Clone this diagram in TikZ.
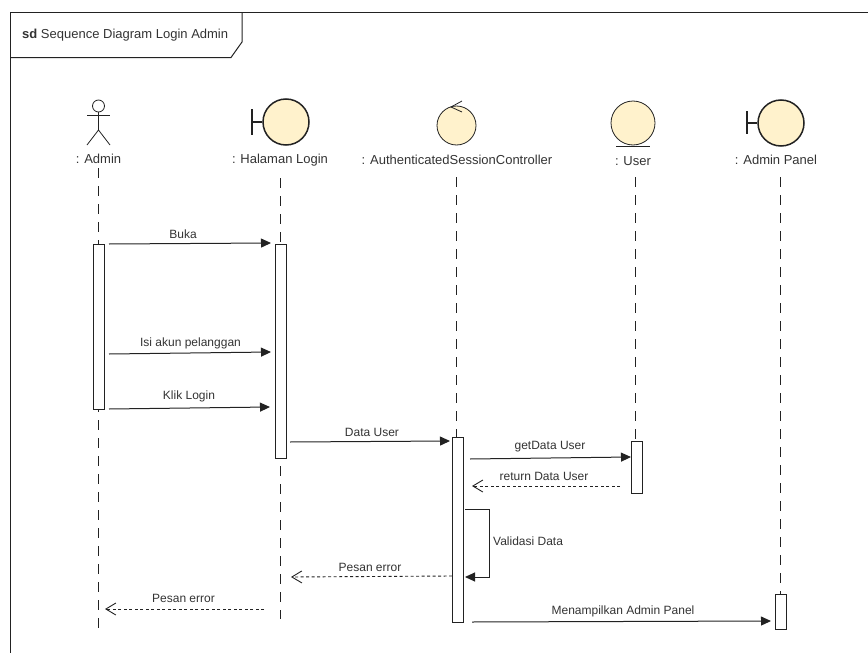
\documentclass[tikz,border=0pt]{standalone}
\usepackage{fontspec}
\setmainfont{Liberation Sans}
\usepackage{xcolor}
\usetikzlibrary{arrows.meta, shapes.geometric, positioning, calc}
\definecolor{bubble}{HTML}{FFF2CC}
\definecolor{ink}{HTML}{222222}
\definecolor{txt}{HTML}{333333}

\begin{document}
\begin{tikzpicture}[
    x=1pt, y=-1pt,
    every node/.style={font=\fontsize{13}{15}\selectfont, text=txt},
    frameline/.style={draw=ink, line width=1pt},
    bubblenode/.style={draw=ink, circle, fill=bubble, inner sep=0pt},
    bar/.style={draw=ink, fill=white, line width=1pt, minimum width=11pt, inner sep=0pt},
    lifeline/.style={draw=ink, line width=0.9pt, dash pattern=on 10pt off 8pt},
    msg/.style={draw=ink, line width=1pt, -{Triangle[length=10pt, width=9pt]}},
    ret/.style={draw=ink, line width=0.9pt, dash pattern=on 3pt off 2.5pt, -{Straight Barb[length=10pt, width=12pt]}},
    lbl/.style={inner sep=0pt},
    msglbl/.style={inner sep=0pt, font=\fontsize{12}{14}\selectfont}
]
    \useasboundingbox (0,0) rectangle (868,653);

    % Frame
    \draw[frameline] (10.5,653) -- (10.5,12.5) -- (868,12.5);
    \draw[frameline] (242,12.5) -- (242,42) -- (231,57.5) -- (10.5,57.5);
    \node[lbl, anchor=west] (title) at (22,35) {\textbf{sd} Sequence Diagram Login Admin};

    % Admin
    \node[draw=ink, circle, minimum size=12pt, inner sep=0pt, line width=0.8pt] (headAdmin) at (98.5,106) {};
    \coordinate (hipAdmin) at (98.5,130);
    \draw[draw=ink, line width=0.8pt] (headAdmin.south) -- (hipAdmin);
    \draw[draw=ink, line width=0.8pt] (87,115) -- (110,115);
    \draw[draw=ink, line width=0.8pt] (87,145) -- (hipAdmin) -- (110,145);
    \node[lbl] (lblAdmin) at (98.5,159) {: Admin};

    % Halaman Login
    \node[bubblenode, minimum size=46pt, line width=1.5pt] (bndLogin) at (286,122) {};
    \draw[draw=ink, line width=1.5pt] (bndLogin.west) -- ++(-11,0);
    \draw[draw=ink, line width=1.5pt] (252,109) -- (252,135);
    \node[lbl] (lblLogin) at (280,160) {: Halaman Login};

    % Controller
    \node[bubblenode, minimum size=39pt, line width=0.8pt] (ctlAuth) at (456.5,125.5) {};
    \draw[draw=ink, line width=0.8pt] (462,101) -- (451,107) -- (462,112);
    \node[lbl] (lblAuth) at (457,160) {: AuthenticatedSessionController};

    % User
    \node[bubblenode, minimum size=44pt, line width=0.8pt] (entUser) at (633,123) {};
    \draw[draw=ink, line width=1pt] (616,146) -- (650,146);
    \node[lbl] (lblUser) at (633,161) {: User};

    % Admin Panel
    \node[bubblenode, minimum size=46pt, line width=1.5pt] (bndPanel) at (781,123) {};
    \draw[draw=ink, line width=1.5pt] (bndPanel.west) -- ++(-11,0);
    \draw[draw=ink, line width=1.5pt] (747,111) -- (747,134);
    \node[lbl] (lblPanel) at (776,160) {: Admin Panel};

    % Lifelines
    \coordinate (topAdmin) at (98.5,168);
    \coordinate (endAdmin) at (98.5,630);
    \coordinate (topLogin) at (280.5,178);
    \coordinate (endLogin) at (280.5,619);
    \coordinate (topAuth) at (456.5,177);
    \coordinate (endAuth) at (456.5,437);
    \coordinate (topUser) at (635.5,177);
    \coordinate (endUser) at (635.5,441);
    \coordinate (topPanel) at (780.5,177);
    \coordinate (endPanel) at (780.5,594);
    \draw[lifeline] (topAdmin) -- (endAdmin);
    \draw[lifeline] (topLogin) -- (endLogin);
    \draw[lifeline] (topAuth) -- (endAuth);
    \draw[lifeline] (topUser) -- (endUser);
    \draw[lifeline] (topPanel) -- (endPanel);

    % Activation bars
    \node[bar, minimum height=165pt] (barAdmin) at (98.5,326.5) {};
    \node[bar, minimum height=214pt] (barLogin) at (280.5,351) {};
    \node[bar, minimum height=185pt] (barAuth) at (457.5,529.5) {};
    \node[bar, minimum height=52pt] (barUser) at (637,467) {};
    \node[bar, minimum height=35pt] (barPanel) at (780.5,611.5) {};

    % Messages
    \coordinate (m1a) at (109,244);   \coordinate (m1b) at (271,243);
    \coordinate (m2a) at (109,354);   \coordinate (m2b) at (271,352);
    \coordinate (m3a) at (109,409);   \coordinate (m3b) at (270,407);
    \coordinate (m4a) at (290,442);   \coordinate (m4b) at (450,441);
    \coordinate (m5a) at (470,459);   \coordinate (m5b) at (631,457);
    \coordinate (m6a) at (620,486);   \coordinate (m6b) at (472,486);
    \coordinate (m7a) at (465,509.5); \coordinate (m7b) at (465,577);
    \coordinate (m8a) at (452,576);   \coordinate (m8b) at (291,577);
    \coordinate (m9a) at (264,609);   \coordinate (m9b) at (105,609);
    \coordinate (m10a) at (472,622);  \coordinate (m10b) at (771,621);

    \draw[msg] (m1a) -- (m1b);
    \draw[msg] (m2a) -- (m2b);
    \draw[msg] (m3a) -- (m3b);
    \draw[msg] (m4a) -- (m4b);
    \draw[msg] (m5a) -- (m5b);
    \draw[ret] (m6a) -- (m6b);
    \draw[msg] (m7a) -- (489.5,509.5) -- (489.5,577) -- (m7b);
    \draw[ret] (m8a) -- (m8b);
    \draw[ret] (m9a) -- (m9b);
    \draw[msg] (m10a) -- (m10b);

    \node[msglbl] (txtBuka) at (183,234) {Buka};
    \node[msglbl] (txtIsi) at (190.5,343.5) {Isi akun pelanggan};
    \node[msglbl] (txtKlik) at (189,396.5) {Klik Login};
    \node[msglbl] (txtData) at (372,432) {Data User};
    \node[msglbl] (txtGet) at (550,447) {getData User};
    \node[msglbl] (txtReturn) at (544,476) {return Data User};
    \node[msglbl, anchor=west] (txtValid) at (493,541.5) {Validasi Data};
    \node[msglbl] (txtErrA) at (370,567.5) {Pesan error};
    \node[msglbl] (txtErrB) at (183.5,598.5) {Pesan error};
    \node[msglbl] (txtPanel) at (623,611) {Menampilkan Admin Panel};
\end{tikzpicture}
\end{document}
